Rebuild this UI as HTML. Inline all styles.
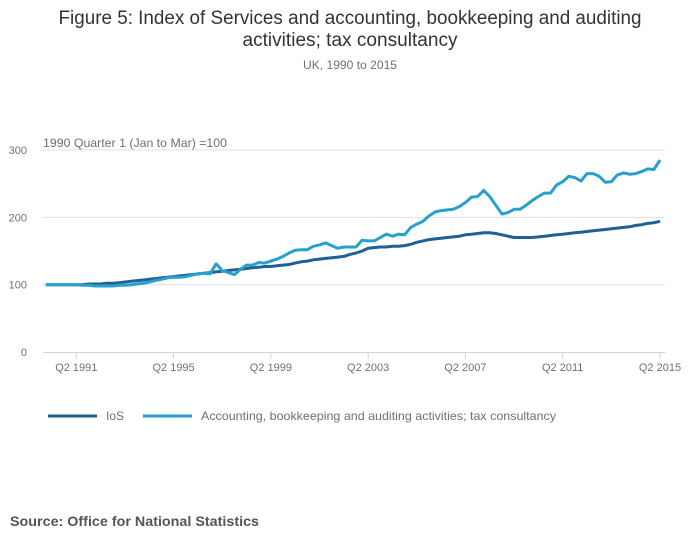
<!DOCTYPE html>
<html><head><meta charset="utf-8"><style>
html,body{margin:0;padding:0;background:#fff;}
svg{display:block;font-family:"Liberation Sans",sans-serif;}
</style></head><body>
<svg id="chart" width="700" height="549" viewBox="0 0 700 549" xmlns="http://www.w3.org/2000/svg">
<text x="350" y="24" text-anchor="middle" font-size="19" fill="#333" textLength="583" lengthAdjust="spacingAndGlyphs">Figure 5: Index of Services and accounting, bookkeeping and auditing</text>
<text x="350" y="46" text-anchor="middle" font-size="19" fill="#333" textLength="215" lengthAdjust="spacingAndGlyphs">activities; tax consultancy</text>
<text x="350" y="69" text-anchor="middle" font-size="12" fill="#707070" textLength="94" lengthAdjust="spacingAndGlyphs">UK, 1990 to 2015</text>
<text x="43" y="147" font-size="12" fill="#707070" textLength="184" lengthAdjust="spacingAndGlyphs">1990 Quarter 1 (Jan to Mar) =100</text>
<g id="grid"></g><g id="xaxis"></g><g id="lines"></g>
<g>
<line x1="48" y1="416" x2="97" y2="416" stroke="#206095" stroke-width="3"/>
<text x="106" y="420" font-size="12" fill="#707070">IoS</text>
<line x1="143" y1="416" x2="192" y2="416" stroke="#27a0cc" stroke-width="3"/>
<text x="201" y="420" font-size="12" fill="#707070" textLength="355" lengthAdjust="spacingAndGlyphs">Accounting, bookkeeping and auditing activities; tax consultancy</text>
</g>
<text x="10" y="526" font-size="14" font-weight="bold" fill="#555" textLength="249" lengthAdjust="spacingAndGlyphs">Source: Office for National Statistics</text>
</svg>
<script>
const yTicks = [0, 100, 200, 300];
const xTickLabels = ["Q2 1991","Q2 1995","Q2 1999","Q2 2003","Q2 2007","Q2 2011","Q2 2015"];
const xTickIndex = [5, 21, 37, 53, 69, 85, 101];
const iosValues = [100,100,100,100,100,100,100,101,101,101,
102,102,103,104,105,106,107,108,109,110,
111,112,113,114,115,116,117,118,119,120,
121,122,123,124,125,126,127,127,128,129,
130,132,134,135,137,138,139,140,141,142,
145,147,150,154,155,156,156,157,157,158,
160,163,165,167,168,169,170,171,172,174,
175,176,177,177,176,174,172,170,170,170,
170,171,172,173,174,175,176,177,178,179,
180,181,182,183,184,185,186,188,189,191,
192,194];
const accountingValues = [100,100,100,100,100,100,99,99,98,98,
98,98,99,99,100,101,102,104,106,108,
110,111,111,112,114,116,117,116,131,121,
118,115,123,129,129,133,132,135,138,142,
147,151,152,152,157,159,162,158,154,156,
156,156,166,165,165,170,175,172,175,174,
185,190,194,202,208,210,211,212,216,222,
230,231,240,231,218,205,207,212,212,218,
225,231,236,236,248,253,261,259,254,265,
265,261,252,253,263,266,264,265,268,272,
271,285];
const ns = "http://www.w3.org/2000/svg";
const x0 = 45.9, dx = 6.08, yBase = 352, ky = 0.6733;
function xScale(i){ return x0 + i*dx; }
function yScale(v){ return yBase - v*ky; }
const grid = document.getElementById('grid');
yTicks.forEach(t=>{
  if(t>0){
    const l=document.createElementNS(ns,'line');
    
    
    l.setAttribute('x1',43);l.setAttribute('x2',665);
    l.setAttribute('y1',yScale(t));l.setAttribute('y2',yScale(t));
    l.setAttribute('stroke','#e0e0e0');l.setAttribute('stroke-width','1');
    grid.appendChild(l);
  }
  const tx=document.createElementNS(ns,'text');
  
  
  tx.setAttribute('x',27);tx.setAttribute('y',yScale(t)+4);
  tx.setAttribute('text-anchor','end');tx.setAttribute('font-size','11');tx.setAttribute('fill','#707070');
  tx.textContent=t;grid.appendChild(tx);
});
const xa=document.getElementById('xaxis');
const ax=document.createElementNS(ns,'line');


ax.setAttribute('x1',43);ax.setAttribute('x2',665);ax.setAttribute('y1',352.5);ax.setAttribute('y2',352.5);
ax.setAttribute('stroke','#c8d4e6');ax.setAttribute('stroke-width','1');xa.appendChild(ax);
xTickLabels.forEach((lab,k)=>{
  const x=xScale(xTickIndex[k]);
  const tk=document.createElementNS(ns,'line');
  
  
  tk.setAttribute('x1',x);tk.setAttribute('x2',x);tk.setAttribute('y1',352);tk.setAttribute('y2',359);
  tk.setAttribute('stroke','#c8d4e6');xa.appendChild(tk);
  const tx=document.createElementNS(ns,'text');
  
  
  tx.setAttribute('x',x);tx.setAttribute('y',371);tx.setAttribute('text-anchor','middle');
  tx.setAttribute('font-size','11');tx.setAttribute('fill','#707070');
  tx.textContent=lab;xa.appendChild(tx);
});
const lines=document.getElementById('lines');
function drawSeries(vals,color,name){
  const p=document.createElementNS(ns,'polyline');
  
  
  p.setAttribute('points',vals.map((v,i)=>xScale(i).toFixed(1)+','+yScale(v).toFixed(1)).join(' '));
  p.setAttribute('fill','none');p.setAttribute('stroke',color);p.setAttribute('stroke-width','3');
  p.setAttribute('stroke-linejoin','round');
  lines.appendChild(p);
}
drawSeries(iosValues,'#206095','ios-line');
drawSeries(accountingValues,'#27a0cc','accounting-line');
</script>
</body></html>
